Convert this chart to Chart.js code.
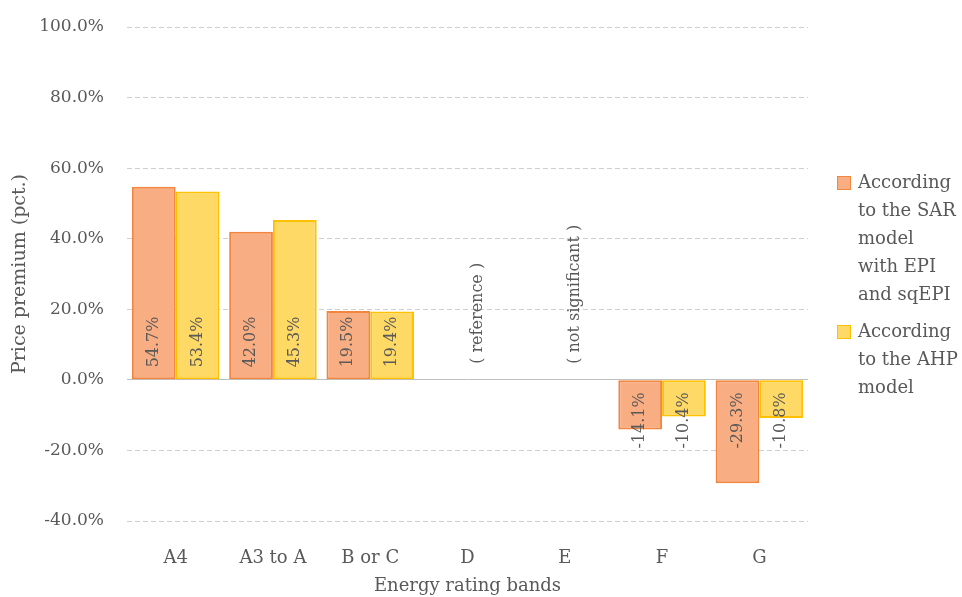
<!DOCTYPE html>
<html>
<head>
<meta charset="utf-8">
<script src="https://cdn.jsdelivr.net/npm/chart.js@4/dist/chart.umd.min.js"></script>
<style>
  html, body { margin: 0; padding: 0; background: #ffffff; }
  canvas { display: block; }
</style>
</head>
<body>
<canvas id="chart" width="962" height="597"></canvas>
<script>
// Energy rating bands and the estimated price premium (%) per model
const categories = ['A4', 'A3 to A', 'B or C', 'D', 'E', 'F', 'G'];
const sarValues = [54.7, 42.0, 19.5, null, null, -14.1, -29.3];
const ahpValues = [53.4, 45.3, 19.4, null, null, -10.4, -10.8];
const categoryNotes = ['', '', '', '( reference )', '( not significant )', '', ''];
const sarLegendLines = ['According', 'to the SAR', 'model', 'with EPI', 'and sqEPI'];
const ahpLegendLines = ['According', 'to the AHP', 'model'];
const yTickValues = [-40, -20, 0, 20, 40, 60, 80, 100];

const FONT = '"DejaVu Serif", "Liberation Serif", serif';
const TEXT = '#595959';

// Rotated value labels at the base of each bar, plus the notes for D and E
const barLabels = {
  id: 'barLabels',
  afterDatasetsDraw(chart) {
    const ctx = chart.ctx;
    ctx.save();
    ctx.font = '16px ' + FONT;
    ctx.fillStyle = TEXT;
    ctx.textBaseline = 'middle';
    chart.data.datasets.forEach((ds, di) => {
      const meta = chart.getDatasetMeta(di);
      meta.data.forEach((bar, i) => {
        const v = ds.data[i];
        if (v === null || v === undefined) return;
        ctx.save();
        ctx.translate(bar.x, bar.base + (v >= 0 ? -12 : 12));
        ctx.rotate(-Math.PI / 2);
        ctx.textAlign = v >= 0 ? 'left' : 'right';
        ctx.fillText(v.toFixed(1) + '%', 0, 0);
        ctx.restore();
      });
    });
    const xs = chart.scales.x, ys = chart.scales.y;
    categoryNotes.forEach((t, i) => {
      if (!t) return;
      ctx.save();
      ctx.translate(xs.getPixelForValue(i) + 10, ys.getPixelForValue(0) - 16);
      ctx.rotate(-Math.PI / 2);
      ctx.textAlign = 'left';
      ctx.fillText(t, 0, 0);
      ctx.restore();
    });
    ctx.restore();
  }
};

// Legend on the right with wrapped series names
const sideLegend = {
  id: 'sideLegend',
  afterDraw(chart) {
    const ctx = chart.ctx;
    const groups = [sarLegendLines, ahpLegendLines];
    const lineH = 28;
    let y = 183;
    ctx.save();
    ctx.font = '18px ' + FONT;
    ctx.textBaseline = 'middle';
    ctx.textAlign = 'left';
    groups.forEach((lines, gi) => {
      const ds = chart.data.datasets[gi];
      ctx.fillStyle = ds.backgroundColor;
      ctx.fillRect(838, y - 6, 12, 12);
      ctx.strokeStyle = ds.borderColor;
      ctx.lineWidth = 1;
      ctx.strokeRect(837.5, y - 6.5, 13, 13);
      ctx.fillStyle = TEXT;
      lines.forEach((ln, li) => ctx.fillText(ln, 858, y + li * lineH));
      y += lines.length * lineH + 9;
    });
    ctx.restore();
  }
};

new Chart(document.getElementById('chart'), {
  type: 'bar',
  data: {
    labels: categories,
    datasets: [
      {
        label: sarLegendLines.join(' '),
        data: sarValues,
        backgroundColor: '#F8AD83',
        borderColor: '#F3863F',
        borderWidth: 2,
        borderSkipped: false
      },
      {
        label: ahpLegendLines.join(' '),
        data: ahpValues,
        backgroundColor: '#FFD966',
        borderColor: '#FFC000',
        borderWidth: 2,
        borderSkipped: false
      }
    ]
  },
  options: {
    responsive: false,
    devicePixelRatio: 1,
    animation: false,
    layout: { padding: { left: 9, top: 27, right: 154, bottom: 0 } },
    datasets: { bar: { categoryPercentage: 0.9, barPercentage: 1.0 } },
    plugins: {
      legend: { display: false },
      tooltip: { enabled: false }
    },
    scales: {
      x: {
        grid: { display: false },
        border: { display: false },
        ticks: { color: TEXT, font: { family: FONT, size: 18 }, padding: 19 },
        title: {
          display: true,
          text: 'Energy rating bands',
          color: TEXT,
          font: { family: FONT, size: 18 },
          padding: 0
        },
        afterFit(s) { s.height = 76; }
      },
      y: {
        min: yTickValues[0],
        max: yTickValues[yTickValues.length - 1],
        afterBuildTicks(s) { s.ticks = yTickValues.map(v => ({ value: v })); },
        ticks: {
          color: TEXT,
          font: { family: FONT, size: 17 },
          padding: 23,
          callback: v => Number(v).toFixed(1) + '%'
        },
        grid: {
          drawTicks: false,
          lineWidth: 1,
          color: c => (c.tick && c.tick.value === 0) ? '#BFBFBF' : '#CFCFCF'
        },
        border: {
          display: false,
          dash: c => (c.tick && c.tick.value === 0) ? [] : [5, 3]
        },
        title: {
          display: true,
          text: 'Price premium (pct.)',
          color: TEXT,
          font: { family: FONT, size: 19 },
          padding: 0
        },
        afterFit(s) {
          s.width = 118;
          s.paddingTop = 0;
          s.paddingBottom = 0;
        }
      }
    }
  },
  plugins: [barLabels, sideLegend]
});
</script>
</body>
</html>
